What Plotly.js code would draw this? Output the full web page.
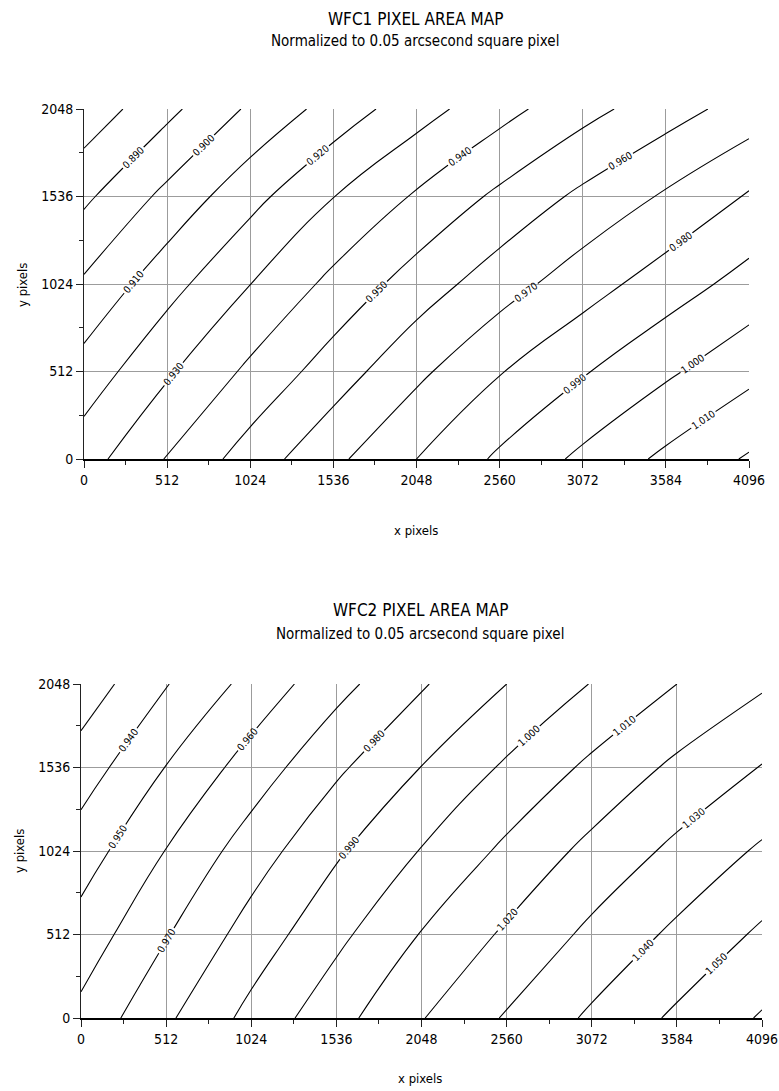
<!DOCTYPE html>
<html>
<head>
<meta charset="utf-8">
<script src="https://cdn.plot.ly/plotly-3.0.1.min.js"></script>
<style>
  html, body { margin: 0; padding: 0; background: #fff; }
  #chart { width: 779px; height: 1091px; }
</style>
</head>
<body>
<div id="chart"></div>
<script>
// ---- Data ----
const xPixels = [0, 512, 1024, 1536, 2048, 2560, 3072, 3584, 4096];
const yPixels = [0, 512, 1024, 1536, 2048];
const tickLabelsX = ["0", "512", "1024", "1536", "2048", "2560", "3072", "3584", "4096"];
const tickLabelsY = ["0", "512", "1024", "1536", "2048"];

// WFC1 normalized pixel area, one array per y row
const wfc1_y0    = [0.9257, 0.9406, 0.9546, 0.9677, 0.9800, 0.9917, 1.0022, 1.0121, 1.0211];
const wfc1_y512  = [0.9140, 0.9286, 0.9421, 0.9549, 0.9677, 0.9794, 0.9891, 0.9983, 1.0072];
const wfc1_y1024 = [0.9015, 0.9163, 0.9299, 0.9427, 0.9546, 0.9655, 0.9755, 0.9849, 0.9937];
const wfc1_y1536 = [0.8880, 0.9027, 0.9168, 0.9298, 0.9412, 0.9521, 0.9622, 0.9713, 0.9811];
const wfc1_y2048 = [0.8735, 0.8874, 0.9016, 0.9140, 0.9257, 0.9365, 0.9466, 0.9556, 0.9643];

// WFC2 normalized pixel area, one array per y row
const wfc2_y0    = [0.9627, 0.9783, 0.9930, 1.0066, 1.0195, 1.0310, 1.0417, 1.0518, 1.0609];
const wfc2_y512  = [0.9541, 0.9693, 0.9842, 0.9975, 1.0105, 1.0216, 1.0323, 1.0421, 1.0517];
const wfc2_y1024 = [0.9450, 0.9603, 0.9750, 0.9886, 1.0005, 1.0121, 1.0228, 1.0323, 1.0415];
const wfc2_y1536 = [0.9349, 0.9503, 0.9644, 0.9782, 0.9902, 1.0015, 1.0121, 1.0221, 1.0305];
const wfc2_y2048 = [0.9238, 0.9395, 0.9532, 0.9666, 0.9790, 0.9900, 1.0004, 1.0100, 1.0187];

const titles = ["WFC1 PIXEL AREA MAP", "WFC2 PIXEL AREA MAP"];
const subtitle = "Normalized to 0.05 arcsecond square pixel";

// ---- Styling ----
const FONT = '"Liberation Sans Narrow", "DejaVu Sans Condensed", "Liberation Sans", Arial, sans-serif';

function contourTrace(z, xa, ya) {
  return {
    type: 'contour',
    x: xPixels, y: yPixels, z: z,
    xaxis: xa, yaxis: ya,
    showscale: false,
    hoverinfo: 'skip',
    contours: {
      coloring: 'none',
      start: 0.87, end: 1.07, size: 0.01,
      showlabels: true,
      labelformat: '.3f',
      labelfont: { family: FONT, size: 10, color: '#000' }
    },
    line: { color: '#000', width: 1.1, smoothing: 1.3 }
  };
}

const traces = [
  contourTrace([wfc1_y0, wfc1_y512, wfc1_y1024, wfc1_y1536, wfc1_y2048], 'x', 'y'),
  contourTrace([wfc2_y0, wfc2_y512, wfc2_y1024, wfc2_y1536, wfc2_y2048], 'x2', 'y2')
];

function xAxis(domain, anchor) {
  return {
    domain: domain, anchor: anchor, range: [0, 4096],
    tickmode: 'array', tickvals: xPixels, ticktext: tickLabelsX,
    showgrid: true, gridcolor: '#9c9c9c', gridwidth: 1,
    showline: true, linecolor: '#000', linewidth: 2,
    ticks: 'outside', ticklen: 7, tickcolor: '#222', tickwidth: 1,
    minor: { dtick: 256, tick0: 0, ticks: 'outside', ticklen: 4, tickcolor: '#222', showgrid: false },
    tickfont: { family: FONT, size: 14, color: '#000' },
    zeroline: false, fixedrange: true
  };
}
function yAxis(domain, anchor) {
  return {
    domain: domain, anchor: anchor, range: [0, 2048],
    tickmode: 'array', tickvals: yPixels, ticktext: tickLabelsY,
    showgrid: true, gridcolor: '#9c9c9c', gridwidth: 1,
    showline: true, linecolor: '#222', linewidth: 1,
    ticks: 'outside', ticklen: 7, tickcolor: '#222', tickwidth: 1,
    minor: { dtick: 256, tick0: 0, ticks: 'outside', ticklen: 4, tickcolor: '#222', showgrid: false },
    tickfont: { family: FONT, size: 14, color: '#000' },
    zeroline: false, fixedrange: true
  };
}

const W = 779, H = 1091;
const px = v => v / W, py = v => 1 - v / H;

function ann(text, x, y, size, angle) {
  return { text: text, x: px(x), y: py(y), xref: 'paper', yref: 'paper', showarrow: false,
    textangle: angle || 0, xanchor: 'center', yanchor: 'middle',
    font: { family: FONT, size: size, color: '#000' } };
}

const layout = {
  width: W, height: H,
  margin: { l: 0, r: 0, t: 0, b: 0 },
  paper_bgcolor: '#fff', plot_bgcolor: '#fff',
  showlegend: false,
  font: { family: FONT, color: '#000' },
  xaxis:  xAxis([px(84), px(749)], 'y'),
  yaxis:  yAxis([1 - 459 / H, 1 - 109 / H], 'x'),
  xaxis2: xAxis([px(81), px(762)], 'y2'),
  yaxis2: yAxis([1 - 1018 / H, 1 - 684 / H], 'x2'),
  annotations: [
    ann(titles[0], 415, 19, 17),
    ann(subtitle, 415, 41, 15),
    ann('y pixels', 22, 285, 13, -90),
    ann('x pixels', 416, 530, 13),
    ann(titles[1], 420, 610, 17),
    ann(subtitle, 420, 634, 15),
    ann('y pixels', 20, 851, 13, -90),
    ann('x pixels', 420, 1078, 13)
  ]
};

Plotly.newPlot('chart', traces, layout, { displayModeBar: false, staticPlot: true });
</script>
</body>
</html>
